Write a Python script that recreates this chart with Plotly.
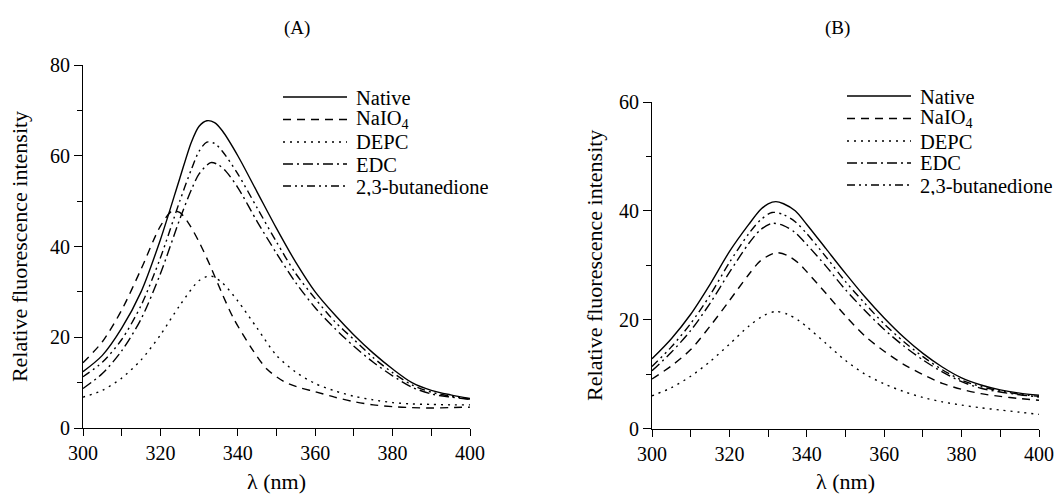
import plotly.graph_objects as go

# ---------------- data ----------------
series_names = ["Native", "NaIO<sub>4</sub>", "DEPC", "EDC", "2,3-butanedione"]

# Panel A
a_native_x = [300, 305, 310, 315, 320, 325, 328, 330, 332, 334, 336, 340, 345, 350, 355, 360, 365, 370, 375, 380, 385, 390, 395, 400]
a_native_y = [12.4, 16, 22, 30, 41.5, 55, 63, 66.5, 67.7, 67.3, 65.5, 60, 52, 44, 36.5, 30, 25, 20.5, 16.5, 13, 10, 8.3, 7.3, 6.5]

a_naio4_x = [300, 305, 310, 315, 320, 323, 325, 327, 330, 333, 336, 339, 344, 347.5, 352, 356, 360, 365, 370, 375, 380, 385, 390, 395, 400]
a_naio4_y = [14.4, 19, 26, 35, 44.5, 47.8, 47.5, 45.5, 41, 35.5, 29.5, 24, 17, 13, 10.2, 8.9, 8.0, 6.8, 5.8, 5.1, 4.7, 4.5, 4.4, 4.5, 4.6]

a_depc_x = [300, 305, 310, 315, 320, 325, 330, 333, 336, 340, 345, 350, 355, 360, 365, 370, 375, 380, 385, 390, 395, 400]
a_depc_y = [6.8, 8.3, 11, 15, 20.5, 27, 32.5, 33.5, 32, 28, 22, 16, 12.3, 9.8, 8.2, 7, 6.2, 5.6, 5.3, 5.2, 5.1, 5.1]

a_edc_x = [300, 305, 310, 315, 320, 325, 328, 330, 333, 335, 337, 340, 345, 350, 355, 360, 365, 370, 375, 380, 385, 390, 395, 400]
a_edc_y = [8.7, 12, 17, 24, 34, 46, 52.5, 56, 58.5, 58, 56.5, 53, 45.5, 38.5, 32, 26.5, 22, 18, 14.5, 11.5, 9, 7.5, 6.8, 6.3]

a_but_x = [300, 305, 310, 315, 320, 325, 328, 330, 332, 334, 336, 340, 345, 350, 355, 360, 365, 370, 375, 380, 385, 390, 395, 400]
a_but_y = [11.3, 14.5, 19.5, 27, 37.5, 50, 57, 61, 63, 62.7, 61, 56, 48.5, 41, 34, 28.5, 23.5, 19.5, 15.5, 12.2, 9.5, 7.9, 7.0, 6.4]

# Panel B
b_native_x = [300, 305, 310, 315, 320, 325, 328, 330, 332, 334, 337, 340, 345, 350, 355, 360, 365, 370, 375, 380, 385, 390, 395, 400]
b_native_y = [12.8, 16.5, 21, 26.5, 32.5, 37.5, 40.2, 41.3, 41.7, 41.3, 40, 37.5, 33, 28.5, 24.2, 20.3, 16.8, 13.8, 11.3, 9.3, 8.0, 7.1, 6.5, 6.1]

b_naio4_x = [300, 305, 310, 315, 320, 325, 328, 332, 335, 338, 340, 345, 350, 355, 360, 365, 370, 375, 380, 385, 390, 395, 400]
b_naio4_y = [9.1, 11.5, 14.5, 18.8, 23.5, 28.3, 30.8, 32.3, 31.8, 30.3, 28.8, 24.8, 20.7, 17, 14.2, 11.8, 9.9, 8.3, 7.2, 6.4, 5.9, 5.5, 5.2]

b_depc_x = [300, 305, 310, 315, 320, 325, 329, 332, 335, 338, 340, 345, 350, 355, 360, 365, 370, 375, 380, 385, 390, 395, 400]
b_depc_y = [6.0, 7.5, 9.6, 12.3, 15.5, 18.8, 20.8, 21.5, 21, 19.8, 18.7, 15.6, 12.5, 10, 8.2, 6.8, 5.7, 4.9, 4.3, 3.8, 3.4, 3.0, 2.6]

b_edc_x = [300, 305, 310, 315, 320, 325, 328, 331, 334, 337, 340, 345, 350, 355, 360, 365, 370, 375, 380, 385, 390, 395, 400]
b_edc_y = [10.6, 14, 18, 23, 28.7, 34, 36.5, 37.7, 37.3, 36, 33.8, 29.8, 25.5, 21.7, 18.2, 15.2, 12.6, 10.4, 8.6, 7.4, 6.7, 6.2, 5.8]

b_but_x = [300, 305, 310, 315, 320, 325, 328, 331, 334, 337, 340, 345, 350, 355, 360, 365, 370, 375, 380, 385, 390, 395, 400]
b_but_y = [11.4, 15, 19.3, 24.5, 30.5, 35.8, 38.3, 39.7, 39.3, 38, 35.8, 31.5, 27, 23, 19.2, 16, 13.2, 10.8, 8.9, 7.7, 6.9, 6.3, 5.9]

x_ticks = [300, 320, 340, 360, 380, 400]
a_y_ticks = [0, 20, 40, 60, 80]
b_y_ticks = [0, 20, 40, 60]

# ---------------- styles ----------------
dashes = ["solid", "8px,6px", "2px,5px", "10px,4px,2px,4px", "8px,4px,2px,4px,2px,4px"]
FONT = "Liberation Serif"

panel_a = [(a_native_x, a_native_y), (a_naio4_x, a_naio4_y), (a_depc_x, a_depc_y),
           (a_edc_x, a_edc_y), (a_but_x, a_but_y)]
panel_b = [(b_native_x, b_native_y), (b_naio4_x, b_naio4_y), (b_depc_x, b_depc_y),
           (b_edc_x, b_edc_y), (b_but_x, b_but_y)]

fig = go.Figure()
for i, (xs, ys) in enumerate(panel_a):
    fig.add_trace(go.Scatter(x=xs, y=ys, mode="lines", name=series_names[i], showlegend=False,
                             line=dict(color="black", width=1.4, dash=dashes[i], shape="spline", smoothing=0.8),
                             xaxis="x", yaxis="y"))
for i, (xs, ys) in enumerate(panel_b):
    fig.add_trace(go.Scatter(x=xs, y=ys, mode="lines", name=series_names[i], showlegend=False,
                             line=dict(color="black", width=1.4, dash=dashes[i], shape="spline", smoothing=0.8),
                             xaxis="x2", yaxis="y2"))

W, H = 1062, 494
axis_common = dict(showline=True, linecolor="black", linewidth=1, showgrid=False, zeroline=False,
                   automargin=False, ticks="outside", tickcolor="black", tickwidth=1,
                   tickfont=dict(family=FONT, size=20, color="black"))

xa = dict(axis_common, range=[300, 400], tickvals=x_ticks, ticklen=7,
          minor=dict(dtick=10, tick0=300, ticks="outside", ticklen=7, tickcolor="black", tickwidth=1),
          title=dict(text="λ (nm)", font=dict(family=FONT, size=22, color="black"), standoff=18))

ytitle = "Relative fluorescence intensity"
fig.update_layout(
    template="none",
    width=W, height=H, margin=dict(l=0, r=0, t=0, b=0),
    paper_bgcolor="white", plot_bgcolor="white",
    font=dict(family=FONT, color="black"),
    xaxis=dict(xa, domain=[83 / W, 470 / W], anchor="y"),
    yaxis=dict(axis_common, domain=[(H - 428) / H, (H - 65) / H], anchor="x", range=[0, 80],
               tickvals=a_y_ticks, ticklen=8,
               minor=dict(dtick=10, tick0=0, ticks="outside", ticklen=5, tickcolor="black", tickwidth=1),
               title=dict(text=ytitle, font=dict(family=FONT, size=22, color="black"), standoff=16)),
    xaxis2=dict(xa, domain=[652 / W, 1039 / W], anchor="y2"),
    yaxis2=dict(axis_common, domain=[(H - 428.5) / H, (H - 102) / H], anchor="x2", range=[0, 60],
                tickvals=b_y_ticks, ticklen=8,
                minor=dict(dtick=10, tick0=0, ticks="outside", ticklen=5, tickcolor="black", tickwidth=1),
                title=dict(text=ytitle, font=dict(family=FONT, size=22, color="black"), standoff=10)),
    showlegend=False,
)

# panel titles
for txt, px in [("(A)", 297), ("(B)", 837)]:
    fig.add_annotation(text=txt, x=px / W, y=1 - 28 / H, xref="paper", yref="paper",
                       showarrow=False, xanchor="center", yanchor="middle",
                       font=dict(family=FONT, size=19, color="black"))

# manual legends (long line samples as in the original)
legend_specs = [(283, 347, 355, [97, 119.5, 142, 164, 186]),
                (847, 911, 919, [96, 118.5, 141, 163, 185])]
for x0, x1, xt, rows in legend_specs:
    for i, ry in enumerate(rows):
        fig.add_shape(type="line", xref="paper", yref="paper",
                      x0=x0 / W, x1=x1 / W, y0=1 - ry / H, y1=1 - ry / H,
                      line=dict(color="black", width=1.4, dash=dashes[i]))
        fig.add_annotation(text=series_names[i], x=xt / W, y=1 - ry / H, xref="paper", yref="paper",
                           showarrow=False, xanchor="left", yanchor="middle", height=19, borderpad=0,
                           font=dict(family=FONT, size=20.5, color="black"))

fig.write_html("out.html")
